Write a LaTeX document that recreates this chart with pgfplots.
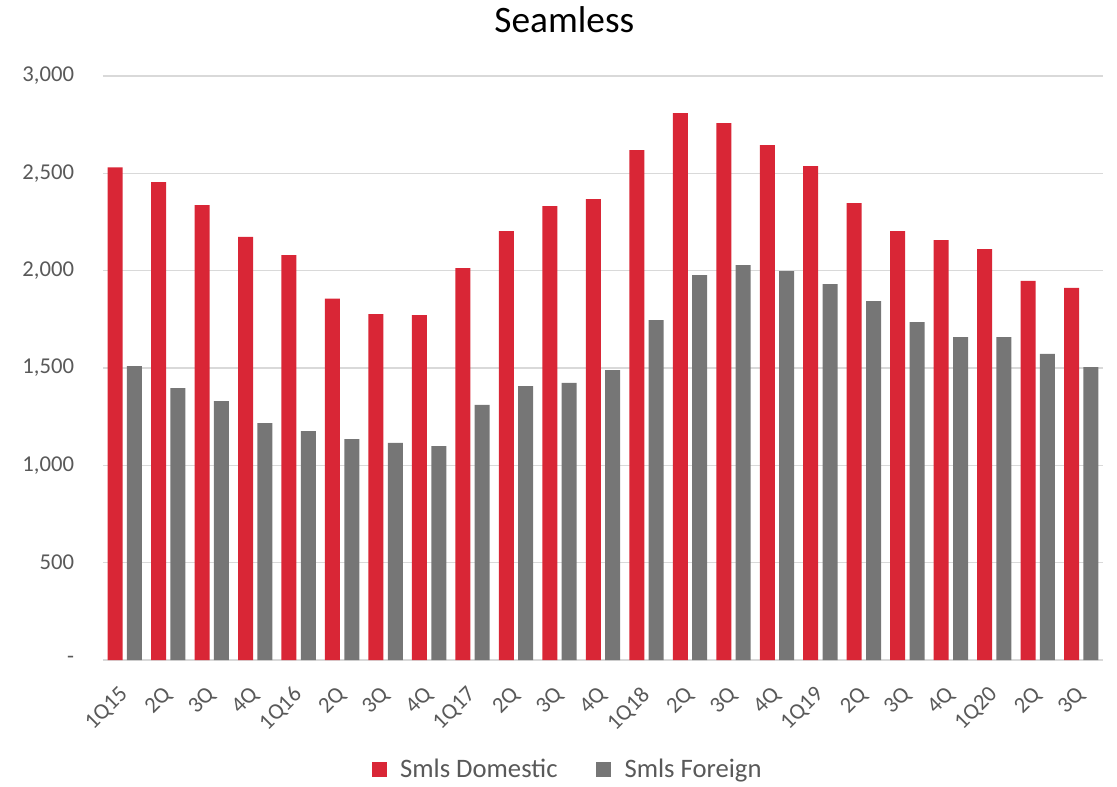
\documentclass[border=0pt]{standalone}
\usepackage{pgfplots}
\pgfplotsset{compat=1.18}
\usepackage{fontspec}
\setmainfont{Carlito}
\definecolor{domred}{HTML}{D92636}
\definecolor{forgray}{HTML}{767676}
\definecolor{gridc}{HTML}{D9D9D9}
\definecolor{txt}{HTML}{595959}
\begin{document}
\begin{tikzpicture}
\useasboundingbox (-77.25pt,-94.5pt) rectangle (760.5pt,495pt);
\begin{axis}[
  scale only axis,
  width=750pt, height=438pt,
  at={(0,0)}, anchor=south west,
  ybar=3.25pt, bar width=11.25pt,
  xmin=-0.5, xmax=22.5,
  ymin=0, ymax=3000,
  xtick={0,...,22},
  xticklabels={1Q15,2Q,3Q,4Q,1Q16,2Q,3Q,4Q,1Q17,2Q,3Q,4Q,1Q18,2Q,3Q,4Q,1Q19,2Q,3Q,4Q,1Q20,2Q,3Q},
  ytick={0,500,1000,1500,2000,2500,3000},
  yticklabels={{-\hspace{9pt}},500,{1,000},{1,500},{2,000},{2,500},{3,000}},
  axis x line*=bottom,
  axis y line*=left,
  x axis line style={draw=gridc, line width=1pt, -},
  y axis line style={draw=none},
  ymajorgrids, grid style={gridc, line width=1pt},
  major tick length=0pt,
  tick label style={font=\fontsize{17}{19}\selectfont, text=txt},
  xticklabel style={xshift=-5pt, yshift=-18.5pt, rotate=45, anchor=north east, inner sep=0pt},
  yticklabel style={anchor=east, inner sep=0pt, xshift=-21.5pt},
  legend columns=2,
  legend style={at={(0.465,0)}, anchor=center, yshift=-82pt, draw=none, font=\fontsize{20}{22}\selectfont, text=txt,
    /tikz/every odd column/.append style={column sep=8pt},
    /tikz/every even column/.append style={column sep=27pt}},
  legend image code/.code={\fill[#1] (0pt,-5.6pt) rectangle (11.25pt,5.6pt);},
]
\addplot[fill=domred, draw=none] coordinates {
(0,2531) (1,2455) (2,2337) (3,2173) (4,2080) (5,1857) (6,1777) (7,1771) (8,2013) (9,2203) (10,2332) (11,2368) (12,2619) (13,2809) (14,2758) (15,2645) (16,2537) (17,2347) (18,2203) (19,2157) (20,2111) (21,1947) (22,1911)};
\addplot[fill=forgray, draw=none] coordinates {
(0,1510) (1,1397) (2,1330) (3,1217) (4,1176) (5,1135) (6,1115) (7,1099) (8,1310) (9,1407) (10,1423) (11,1489) (12,1746) (13,1977) (14,2029) (15,1998) (16,1931) (17,1844) (18,1736) (19,1659) (20,1659) (21,1572) (22,1505)};
\legend{Smls Domestic, Smls Foreign}
\end{axis}
\node[font=\fontsize{28}{32}\selectfont, text=black] at (346pt,480pt) {Seamless};
\end{tikzpicture}
\end{document}
